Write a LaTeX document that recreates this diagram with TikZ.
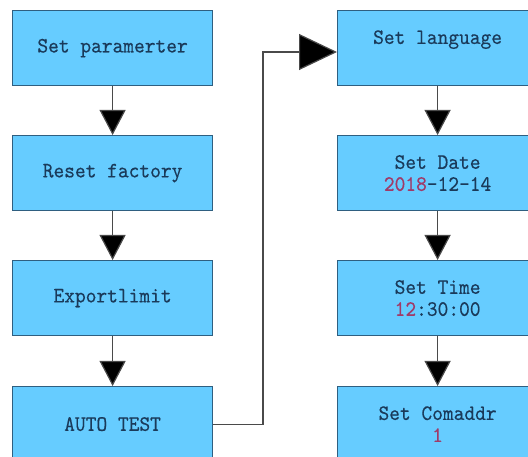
\documentclass[tikz,border=0pt]{standalone}
\usepackage{fontspec}
\newfontfamily\diagfont{lmmono10-regular.otf}[FakeStretch=0.93,FakeBold=0.3]
\usetikzlibrary{arrows.meta}
\definecolor{boxfill}{HTML}{66CCFF}
\definecolor{boxline}{HTML}{2F5F80}
\definecolor{boxtext}{HTML}{1A3A5A}
\definecolor{numred}{HTML}{A03A68}
\definecolor{wire}{HTML}{4A4A4A}
\tikzset{
  stepbox/.style={draw=boxline, line width=1.2pt, fill=boxfill, minimum width=200pt,
    minimum height=75pt, anchor=north west, inner sep=0pt, align=center,
    text=boxtext, font=\diagfont\fontsize{22}{22}\selectfont},
  flow/.style={draw=wire, line width=1.2pt, -{Triangle[length=25pt,width=26pt,fill=black]}},
  bigflow/.style={draw=wire, line width=1.2pt, -{Triangle[length=38pt,width=36pt,fill=black]}},
}
\begin{document}
\begin{tikzpicture}[x=1pt,y=-1pt]
\useasboundingbox (0,0) rectangle (528,457);
\begin{scope}
\clip (0,0) rectangle (528,457);
\node[stepbox] (p1) at (12,10) {Set paramerter};
\node[stepbox] (p2) at (12,135) {Reset factory};
\node[stepbox] (p3) at (12,260) {Exportlimit};
\node[stepbox] (p4) at (12,386) {AUTO TEST};
\node[stepbox] (q1) at (337,10) {Set language\\\phantom{1}};
\node[stepbox] (q2) at (337,135) {Set Date\\\textcolor{numred}{2018}-12-14};
\node[stepbox] (q3) at (337,260) {Set Time\\\textcolor{numred}{12}:30:00};
\node[stepbox] (q4) at (337,386) {Set Comaddr\\\textcolor{numred}{1}};
\draw[flow] (p1) -- (p2);
\draw[flow] (p2) -- (p3);
\draw[flow] (p3) -- (p4);
\draw[flow] (q1) -- (q2);
\draw[flow] (q2) -- (q3);
\draw[flow] (q3) -- (q4);
\coordinate (turn) at (263,52);
\draw[bigflow] (p4.east) -| (turn) -- (turn -| q1.west);
\end{scope}
\end{tikzpicture}
\end{document}
